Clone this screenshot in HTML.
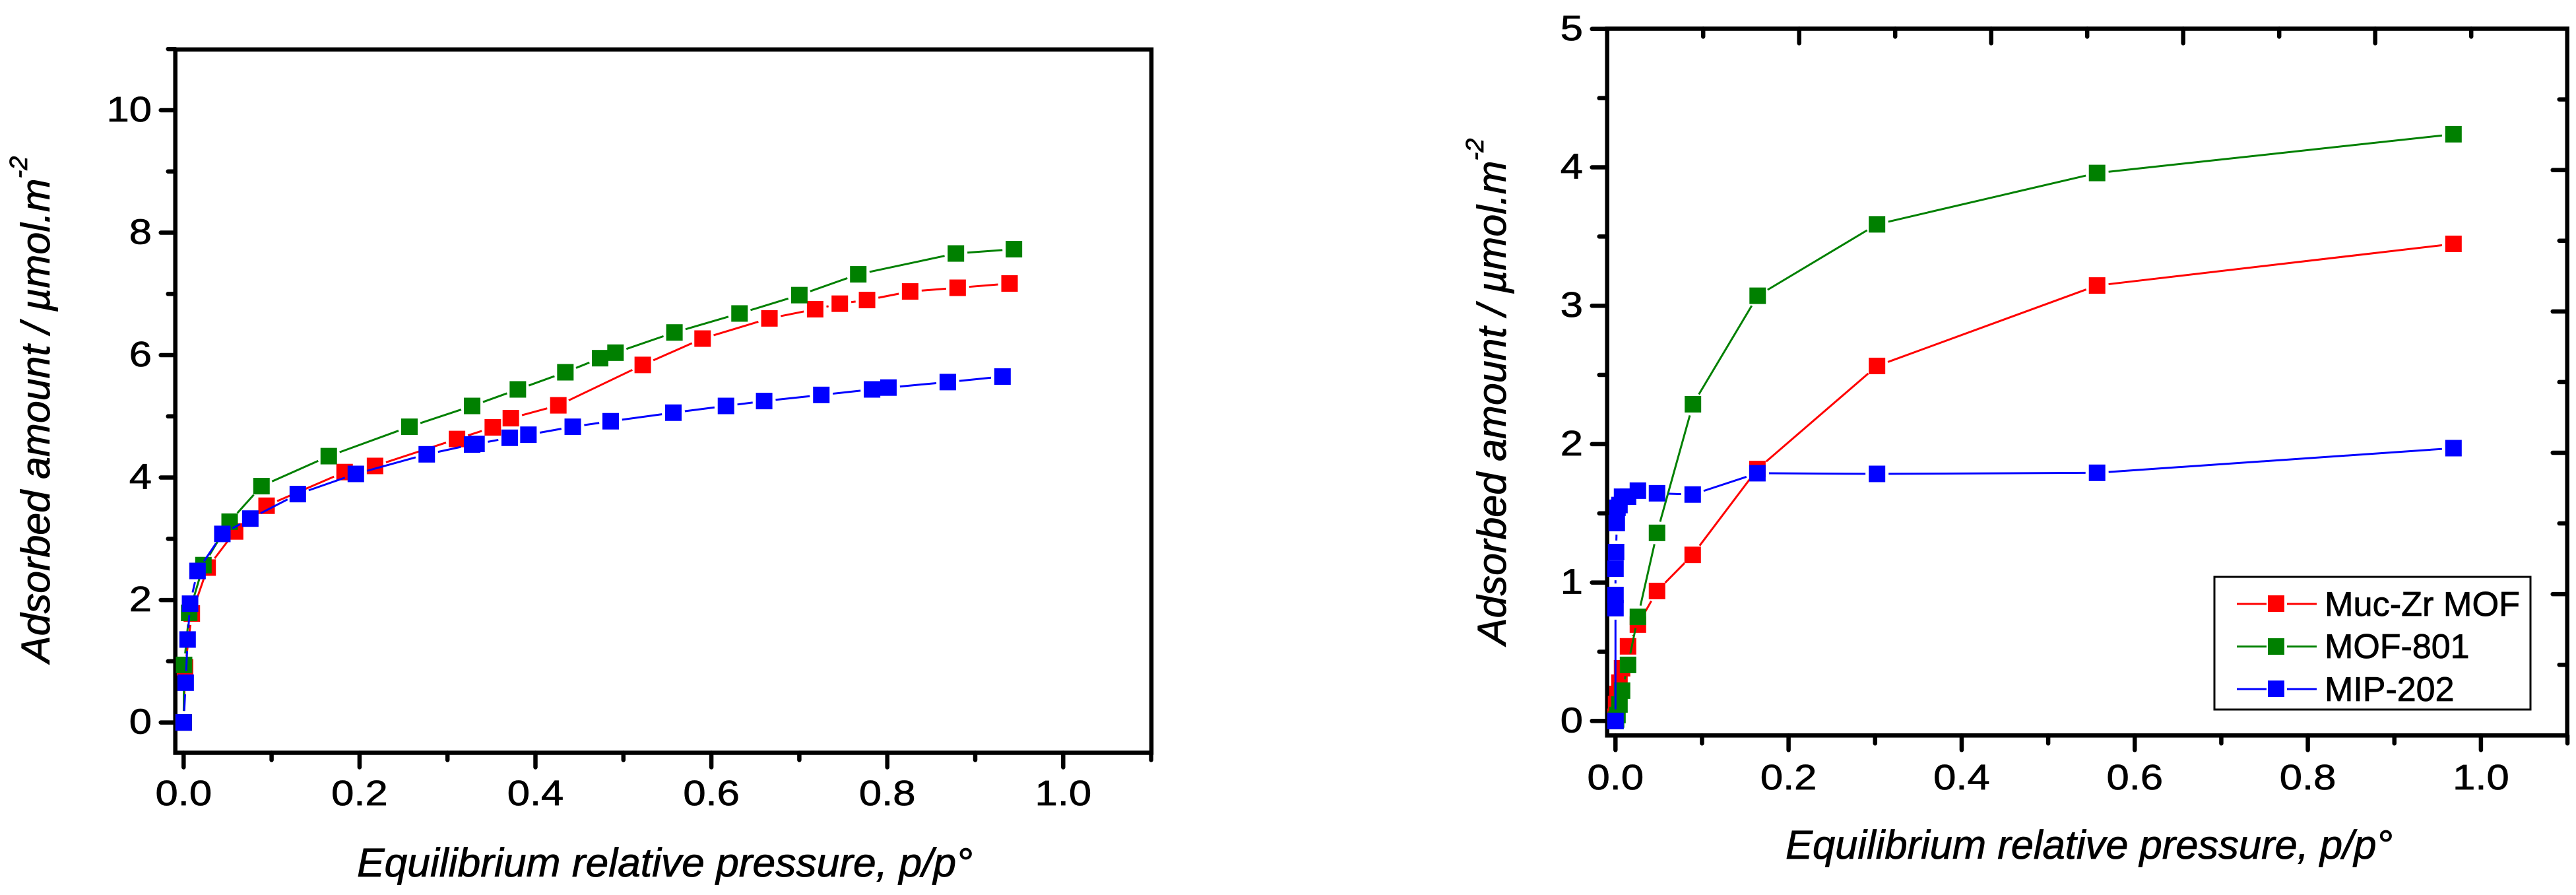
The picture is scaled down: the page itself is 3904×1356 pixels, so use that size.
<!DOCTYPE html>
<html lang="en">
<head>
<meta charset="utf-8">
<title>Adsorption isotherms</title>
<style>
html,body{margin:0;padding:0;background:#fff;}
svg{display:block;}
text{font-family:"Liberation Sans",Arial,sans-serif;fill:#000;stroke:#000;stroke-width:0.8px;}
.title{font-style:italic;font-size:61px;}
.legend-text{font-size:52px;}
</style>
</head>
<body>
<svg id="figure" xmlns="http://www.w3.org/2000/svg" width="3904" height="1356" viewBox="0 0 3904 1356">
  <rect x="0" y="0" width="3904" height="1356" fill="#fff"/>
  <g id="panel-a"></g>
  <g id="panel-b"></g>

  <text class="title" x="541" y="1328" textLength="933" lengthAdjust="spacingAndGlyphs">Equilibrium relative pressure, p/p°</text>
  <text class="title" transform="translate(75,1004) rotate(-90)">Adsorbed amount / µmol.m<tspan font-size="38" dy="-34">-2</tspan></text>

  <text class="title" x="2706" y="1301" textLength="920" lengthAdjust="spacingAndGlyphs">Equilibrium relative pressure, p/p°</text>
  <text class="title" transform="translate(2282,977) rotate(-90)">Adsorbed amount / µmol.m<tspan font-size="38" dy="-34">-2</tspan></text>

  <g>
    <rect x="3356" y="874" width="479" height="201" fill="#fff" stroke="#000" stroke-width="3"/>
    <g>
      <line x1="3390" y1="915" x2="3435" y2="915" stroke="#ff0000" stroke-width="3"/>
      <line x1="3466" y1="915" x2="3511" y2="915" stroke="#ff0000" stroke-width="3"/>
      <rect x="3437" y="902" width="25" height="25" fill="#ff0000"/>
      <text class="legend-text" x="3523" y="933" textLength="296" lengthAdjust="spacingAndGlyphs">Muc-Zr MOF</text>
    </g>
    <g>
      <line x1="3390" y1="979.5" x2="3435" y2="979.5" stroke="#008000" stroke-width="3"/>
      <line x1="3466" y1="979.5" x2="3511" y2="979.5" stroke="#008000" stroke-width="3"/>
      <rect x="3437" y="967" width="25" height="25" fill="#008000"/>
      <text class="legend-text" x="3523" y="997">MOF-801</text>
    </g>
    <g>
      <line x1="3390" y1="1044" x2="3435" y2="1044" stroke="#0000ff" stroke-width="3"/>
      <line x1="3466" y1="1044" x2="3511" y2="1044" stroke="#0000ff" stroke-width="3"/>
      <rect x="3437" y="1031" width="25" height="25" fill="#0000ff"/>
      <text class="legend-text" x="3523" y="1062">MIP-202</text>
    </g>
  </g>
</svg>
<script>
// ---- Left chart data ----
const leftMucX = [0, 0.0016, 0.0093, 0.0273, 0.0585, 0.0943, 0.183, 0.2176, 0.3108, 0.3515, 0.372, 0.426, 0.522, 0.590, 0.666, 0.718, 0.746, 0.777, 0.826, 0.880, 0.939];
const leftMucY = [0, 0.90, 1.78, 2.53, 3.12, 3.54, 4.09, 4.19, 4.63, 4.82, 4.97, 5.18, 5.84, 6.27, 6.60, 6.75, 6.84, 6.90, 7.04, 7.10, 7.17];
const leftMofX = [0, 0.0005, 0.0063, 0.0225, 0.0523, 0.0885, 0.165, 0.2567, 0.328, 0.380, 0.434, 0.4735, 0.491, 0.558, 0.632, 0.700, 0.767, 0.878, 0.944];
const leftMofY = [0, 0.94, 1.79, 2.57, 3.28, 3.86, 4.35, 4.83, 5.17, 5.44, 5.72, 5.95, 6.04, 6.37, 6.68, 6.98, 7.32, 7.66, 7.73];
const leftMipX = [0, 0.0023, 0.0045, 0.0073, 0.0158, 0.044, 0.0758, 0.1298, 0.1958, 0.2764, 0.328, 0.333, 0.3707, 0.392, 0.4424, 0.4855, 0.5568, 0.6166, 0.660, 0.725, 0.7827, 0.8013, 0.8688, 0.931];
const leftMipY = [0, 0.65, 1.355, 1.94, 2.475, 3.08, 3.33, 3.73, 4.06, 4.38, 4.54, 4.55, 4.65, 4.70, 4.83, 4.92, 5.06, 5.17, 5.25, 5.35, 5.44, 5.47, 5.56, 5.65];
const leftXTickLabels = ['0.0', '0.2', '0.4', '0.6', '0.8', '1.0'];
const leftYTickLabels = ['0', '2', '4', '6', '8', '10'];

// ---- Right chart data ----
const rightMucX = [0, 0.0007, 0.0023, 0.0046, 0.0076, 0.0145, 0.0259, 0.048, 0.0892, 0.164, 0.3022, 0.5565, 0.9683];
const rightMucY = [0.03, 0.122, 0.195, 0.277, 0.381, 0.539, 0.696, 0.939, 1.20, 1.82, 2.565, 3.146, 3.447];
const rightMofX = [0, 0.0007, 0.0023, 0.0046, 0.0076, 0.0145, 0.0259, 0.048, 0.0895, 0.1643, 0.3022, 0.5565, 0.9683];
const rightMofY = [0, 0.01, 0.043, 0.119, 0.219, 0.405, 0.752, 1.359, 2.288, 3.072, 3.588, 3.959, 4.239];
const rightMipX = [0, 0, 0, 0, 0.0007, 0.0015, 0.0023, 0.0046, 0.0076, 0.0145, 0.0259, 0.048, 0.0892, 0.164, 0.3022, 0.5565, 0.9683];
const rightMipY = [0, 0.815, 0.91, 1.10, 1.22, 1.43, 1.54, 1.56, 1.62, 1.62, 1.664, 1.645, 1.636, 1.79, 1.785, 1.793, 1.971];
const rightXTickLabels = ['0.0', '0.2', '0.4', '0.6', '0.8', '1.0'];
const rightYTickLabels = ['0', '1', '2', '3', '4', '5'];

const colors = { muc: '#ff0000', mof: '#008000', mip: '#0000ff' };
const SVG_NS = 'http://www.w3.org/2000/svg';

function mk(parent, tag, attrs) {
  const el = document.createElementNS(SVG_NS, tag);
  for (const k in attrs) el.setAttribute(k, attrs[k]);
  parent.appendChild(el);
  return el;
}

function drawSeries(parent, xs, ys, sx, sy, color, name) {
  const g = mk(parent, 'g', {});
  
  
  const gap = 17.5;
  for (let i = 0; i < xs.length - 1; i++) {
    const x1 = sx(xs[i]), y1 = sy(ys[i]), x2 = sx(xs[i + 1]), y2 = sy(ys[i + 1]);
    const d = Math.hypot(x2 - x1, y2 - y1);
    if (d <= gap * 2) continue;
    const ux = (x2 - x1) / d, uy = (y2 - y1) / d;
    const seg = mk(g, 'line', {
      x1: x1 + ux * gap, y1: y1 + uy * gap,
      x2: x2 - ux * gap, y2: y2 - uy * gap,
      stroke: color, 'stroke-width': 3
    });
    
    
  }
  for (let i = 0; i < xs.length; i++) {
    const pt = mk(g, 'rect', {
      x: sx(xs[i]) - 12.5, y: sy(ys[i]) - 12.5,
      width: 25, height: 25, fill: color
    });
    
    
  }
}

function tickLine(parent, x1, y1, x2, y2, name) {
  const t = mk(parent, 'line', { x1, y1, x2, y2, stroke: '#000', 'stroke-width': 6.5, 'stroke-linecap': 'round' });
  
  
}

function tickText(parent, label, x, y, anchor, name) {
  const t = mk(parent, 'text', {
    transform: 'translate(' + x + ',' + y + ') scale(1.14,1)',
    'text-anchor': anchor, 'font-size': 54
  });
  t.textContent = label;
  
  
}

function drawAxes(parent, o) {
  const frame = mk(parent, 'rect', {
    x: o.left, y: o.top, width: o.right - o.left, height: o.bottom - o.top,
    fill: 'none', stroke: '#000', 'stroke-width': 6.5
  });
  
  

  const xCount = Math.round(o.xMax * 10);
  for (let k = 0; k <= xCount; k++) {
    const major = k % 2 === 0;
    const x = o.sx(k / 10);
    tickLine(parent, x, o.bottom, x, o.bottom + (major ? o.xMajor : o.xMinor), major ? 'x-major-tick' : 'x-minor-tick');
  }
  o.xLabels.forEach(function (lab) {
    tickText(parent, lab, o.sx(parseFloat(lab)), o.xLabelBase, 'middle', 'x-tick-label');
  });

  for (let k = 0; k <= o.yTicks; k++) {
    const v = k * o.yStep;
    const major = k % 2 === 0;
    const y = o.sy(v);
    tickLine(parent, o.left, y, o.left - (major ? o.yMajor : o.yMinor), y, major ? 'y-major-tick' : 'y-minor-tick');
  }
  o.yLabels.forEach(function (lab) {
    tickText(parent, lab, o.yLabelX, o.sy(parseFloat(lab)) + o.yLabelOff, 'end', 'y-tick-label');
  });
}

// Left chart axis functions
const leftX = function (v) { return 278.3 + 1333 * v; };
const leftY = function (v) { return 1094.6 - 92.76 * v; };
const panelA = document.getElementById('panel-a');
drawAxes(panelA, {
  left: 265.7, right: 1745, top: 75, bottom: 1140.5, sx: leftX, sy: leftY, xMax: 1.1,
  xMajor: 22, xMinor: 11, xLabels: leftXTickLabels, xLabelBase: 1220,
  yTicks: 11, yStep: 1, yMajor: 22, yMinor: 11, yLabels: leftYTickLabels, yLabelX: 230, yLabelOff: 17
});
drawSeries(panelA, leftMucX, leftMucY, leftX, leftY, colors.muc, 'left-muc-zr-mof');
drawSeries(panelA, leftMofX, leftMofY, leftX, leftY, colors.mof, 'left-mof-801');
drawSeries(panelA, leftMipX, leftMipY, leftX, leftY, colors.mip, 'left-mip-202');

// Right chart axis functions
const rightX = function (v) { return 2448.3 + 1311.6 * v; };
const rightY = function (v) { return 1092.3 - 209.7 * v; };
const panelB = document.getElementById('panel-b');
drawAxes(panelB, {
  left: 2435.7, right: 3890.7, top: 43.5, bottom: 1114.3, sx: rightX, sy: rightY, xMax: 1.1,
  xMajor: 22, xMinor: 12, xLabels: rightXTickLabels, xLabelBase: 1196,
  yTicks: 10, yStep: 0.5, yMajor: 23, yMinor: 12, yLabels: rightYTickLabels, yLabelX: 2399, yLabelOff: 17
});
// Inward ticks along the top and right edges of the right chart
for (let k = 1; k < 10; k++) {
  const major = k % 2 === 0;
  const x = 2435.7 + (3890.7 - 2435.7) * k / 10;
  tickLine(panelB, x, 43.5, x, 43.5 + (major ? 22 : 12), major ? 'top-major-tick' : 'top-minor-tick');
  const y = 43.5 + (1114.3 - 43.5) * k / 10;
  tickLine(panelB, 3890.7, y, 3890.7 - (major ? 22 : 12), y, major ? 'right-major-tick' : 'right-minor-tick');
}
drawSeries(panelB, rightMucX, rightMucY, rightX, rightY, colors.muc, 'right-muc-zr-mof');
drawSeries(panelB, rightMofX, rightMofY, rightX, rightY, colors.mof, 'right-mof-801');
drawSeries(panelB, rightMipX, rightMipY, rightX, rightY, colors.mip, 'right-mip-202');
</script>
</body>
</html>
